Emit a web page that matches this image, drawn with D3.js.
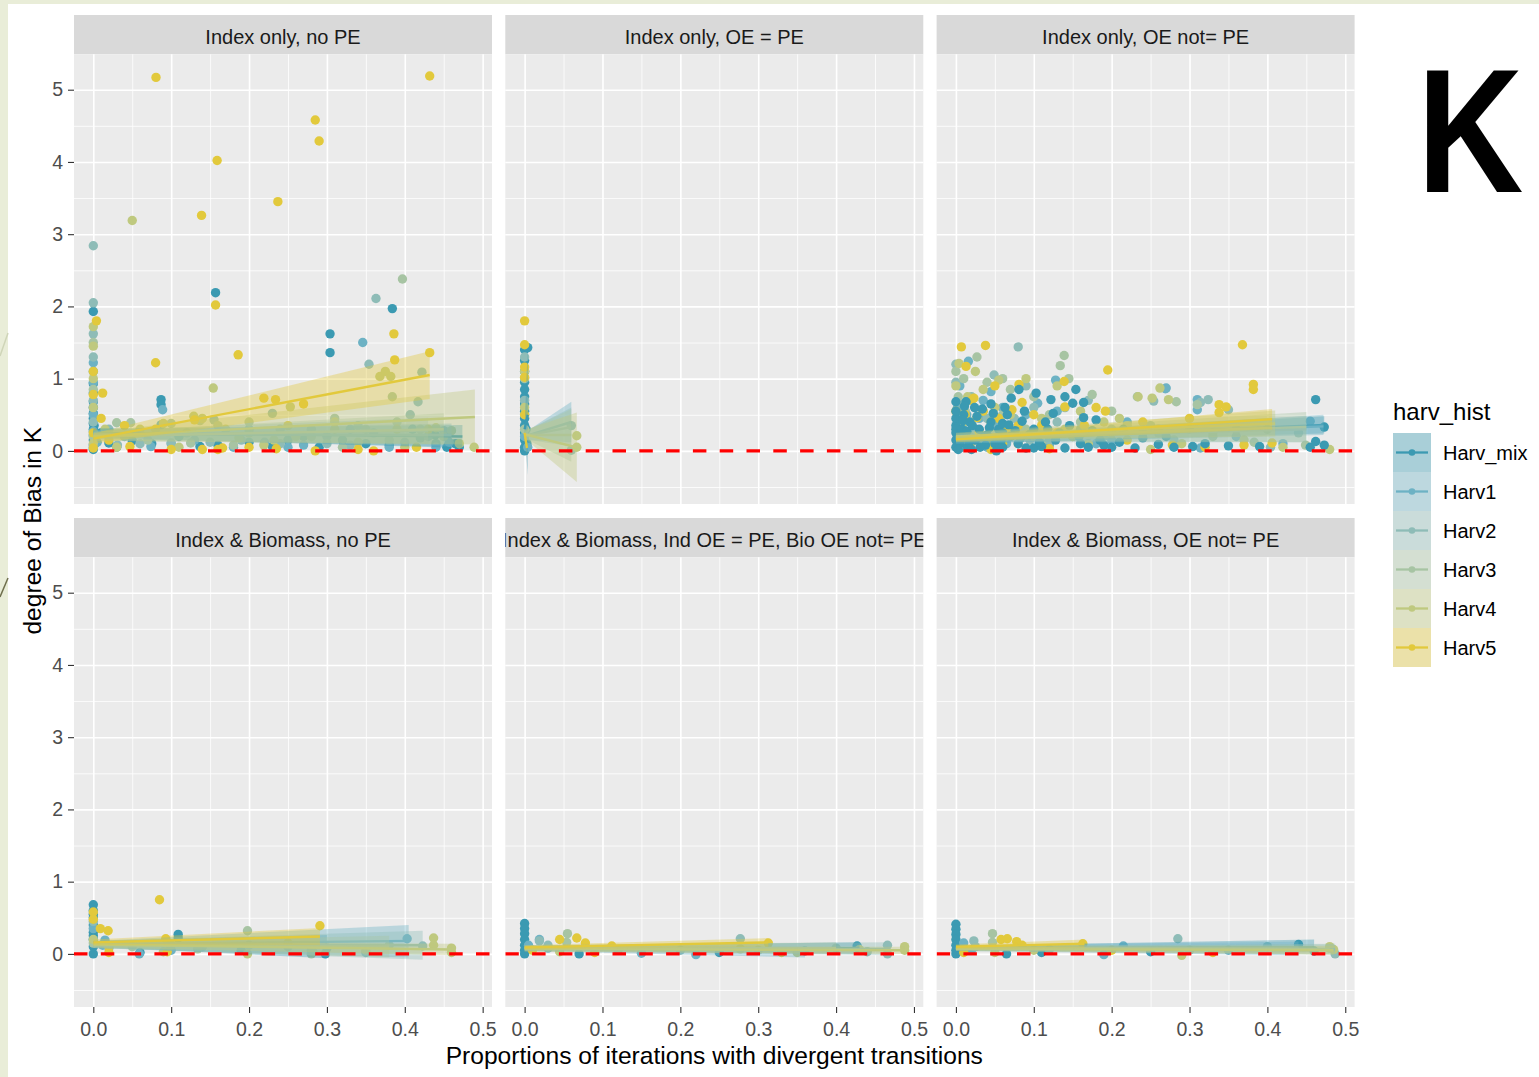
<!DOCTYPE html>
<html lang="en">
<head>
<meta charset="UTF-8">
<title>degree of Bias in K</title>
<script src="https://cdn.jsdelivr.net/npm/d3@7"></script>
<style>
  body { margin: 0; background: #e9edd8; }
  svg { display: block; font-family: "Liberation Sans", Arial, sans-serif; }
  .strip-text { font-size: 20px; fill: #1a1a1a; text-anchor: middle; }
  .axis text { font-size: 19.5px; fill: #4d4d4d; font-family: "Liberation Sans", Arial, sans-serif; }
  .axis line { stroke: #333333; stroke-width: 1.1px; }
  .axis-title { font-size: 24.6px; fill: #000; text-anchor: middle; }
  .legend-title { font-size: 24px; fill: #000; }
  .legend-text { font-size: 20px; fill: #000; }
</style>
</head>
<body>
<svg id="chart" width="1539" height="1077"></svg>
<script>
// ---- data ----
const seriesNames = ["Harv_mix", "Harv1", "Harv2", "Harv3", "Harv4", "Harv5"];
const seriesColors = ["#3b9ab2", "#6db2c4", "#8ebcb7", "#a7c4a3", "#bfc97f", "#e2c93c"];

const panelTitles = [
  "Index only, no PE", "Index only, OE = PE", "Index only, OE not= PE",
  "Index & Biomass, no PE", "Index & Biomass, Ind OE = PE, Bio OE not= PE", "Index & Biomass, OE not= PE"
];

const xTicks = [0, 0.1, 0.2, 0.3, 0.4, 0.5];
const xMinor = [0.05, 0.15, 0.25, 0.35, 0.45];
const yTicks = [0, 1, 2, 3, 4, 5];
const yMinor = [-0.5, 0.5, 1.5, 2.5, 3.5, 4.5];

// points: [series, proportion divergent, bias]
const pointsP1 = [
  [0,0,1.93],[0,0,0.93],[0,0,0.8],[0,0,0.68],[0,0,0.6],[0,0,0.52],[0,0,0.45],[0,0,0.38],[0,0,0.3],[0,0,0.22],
  [0,0,0.15],[0,0,0.08],[0,0,0.02],[0,0.001,0.35],[0,0.002,0.1],[0,0.157,2.19],[0,0.304,1.62],[0,0.304,1.36],
  [0,0.384,1.97],[0,0.087,0.71],[0,0.087,0.64],[0,0.137,0.06],[0,0.02,0.11],[0,0.439,0.22],[0,0.454,0.21],
  [0,0.454,0.05],[0,0.465,0.1],[0,0.47,0.05],[0,0.2,0.12],[0,0.25,0.15],[0,0.35,0.1],[0,0.42,0.18],[0,0.05,0.14],
  [0,0.11,0.2],[0,0.29,0.05],[0,0.01,0.25],[0,0.03,0.05],[0,0.075,0.1],[0,0.16,0.08],[0,0.23,0.06],[0,0.27,0.2],
  [0,0.32,0.15],[0,0.38,0.08],[0,0.41,0.3],[0,0.44,0.1],
  [1,0,1.22],[1,0,1.1],[1,0,0.95],[1,0,0.5],[1,0,0.27],[1,0,0.05],[1,0.089,0.57],[1,0.087,0.36],[1,0.346,1.5],
  [1,0.074,0.06],[1,0.1,0.1],[1,0.18,0.05],[1,0.22,0.12],[1,0.3,0.2],[1,0.27,0.08],[1,0.4,0.12],[1,0.43,0.2],
  [1,0.457,0.12],[1,0.005,0.12],[1,0.33,0.3],[1,0.38,0.05],[1,0.04,0.2],[1,0.13,0.15],[1,0.2,0.3],[1,0.25,0.05],
  [1,0.36,0.25],[1,0.44,0.05],
  [2,0,2.84],[2,0,2.05],[2,0,1.62],[2,0,1.3],[2,0,0.7],[2,0,0.4],[2,0.354,1.2],[2,0.363,2.11],[2,0.417,0.68],
  [2,0.422,1.09],[2,0.407,0.5],[2,0.23,0.52],[2,0.155,0.43],[2,0.031,0.08],[2,0.1,0.11],[2,0.06,0.1],[2,0.15,0.12],
  [2,0.24,0.1],[2,0.33,0.08],[2,0.38,0.15],[2,0.28,0.3],[2,0.02,0.3],[2,0.12,0.25],[2,0.19,0.15],[2,0.3,0.1],
  [2,0.34,0.35],[2,0.45,0.28],
  [3,0,1.5],[3,0,0.85],[3,0,0.2],[3,0.397,2.38],[3,0.384,0.75],[3,0.03,0.39],[3,0.048,0.39],[3,0.137,0.42],
  [3,0.125,0.11],[3,0.1,0.38],[3,0.2,0.4],[3,0.28,0.2],[3,0.35,0.3],[3,0.42,0.3],[3,0.45,0.2],[3,0.31,0.45],
  [3,0.18,0.08],[3,0.07,0.15],[3,0.16,0.35],[3,0.24,0.3],[3,0.32,0.05],[3,0.39,0.4],[3,0.46,0.28],
  [4,0,1.72],[4,0,1.45],[4,0,1.0],[4,0,0.6],[4,0,0.1],[4,0.05,3.19],[4,0.154,0.87],[4,0.489,0.05],[4,0.368,1.03],
  [4,0.375,1.1],[4,0.382,1.03],[4,0.253,0.61],[4,0.129,0.48],[4,0.14,0.45],[4,0.187,0.18],[4,0.219,0.08],
  [4,0.232,0.15],[4,0.2,0.25],[4,0.09,0.38],[4,0.44,0.32],[4,0.03,0.05],[4,0.06,0.3],[4,0.34,0.12],[4,0.47,0.1],
  [4,0.015,0.3],[4,0.11,0.05],[4,0.17,0.3],[4,0.26,0.2],[4,0.31,0.4],[4,0.4,0.05],
  [5,0.0805,5.17],[5,0.432,5.19],[5,0.285,4.58],[5,0.29,4.29],[5,0.159,4.02],[5,0.237,3.45],[5,0.139,3.26],
  [5,0.157,2.02],[5,0.08,1.22],[5,0.186,1.33],[5,0.386,1.62],[5,0.432,1.36],[5,0.387,1.26],[5,0.004,1.8],
  [5,0,1.1],[5,0.012,0.8],[5,0,0.78],[5,0.01,0.45],[5,0,0.25],[5,0,0.04],[5,0.219,0.73],[5,0.234,0.71],
  [5,0.047,0.06],[5,0.166,0.04],[5,0.16,0.02],[5,0.14,0.02],[5,0.285,0.0],[5,0.235,0.03],[5,0.34,0.02],
  [5,0.36,0.0],[5,0.13,0.43],[5,0.43,0.3],[5,0.415,0.05],[5,0.04,0.35],[5,0.27,0.65],[5,0.02,0.15],
  [5,0.08,0.3],[5,0.1,0.02],[5,0.2,0.05],[5,0.25,0.35],[5,0.31,0.3],[5,0.39,0.3]
];

const pointsP2 = [
  [0,0,1.4],[0,0,1.25],[0,0,1.1],[0,0,0.95],[0,0,0.85],[0,0,0.75],[0,0,0.65],[0,0,0.55],[0,0,0.45],[0,0,0.35],
  [0,0,0.25],[0,0,0.15],[0,0,0.05],[0,0,0.0],[0,0.002,0.3],[0,0.003,0.1],[0,0.004,1.43],
  [1,0,0.5],[1,0,0.2],[1,0.004,0.05],
  [2,0,1.3],[2,0,0.7],[2,0.06,0.35],[2,0.06,0.01],
  [3,0,1.0],[3,0,0.3],
  [4,0,1.1],[4,0,0.6],[4,0.067,0.21],[4,0.067,0.05],
  [5,0,1.8],[5,0,1.47],[5,0,1.16],[5,0,1.02],[5,0,0.5]
];

const pointsP3 = [
  [1,0.016,1.24],[1,0.045,0.82],[1,0.03,0.45],[1,0.07,0.2],[1,0.128,0.98],[1,0.12,0.08],[1,0.2,0.15],[1,0.269,0.86],
  [1,0.27,0.87],[1,0.31,0.71],[1,0.31,0.57],[1,0.314,0.04],[1,0.455,0.41],[1,0.01,0.3],[1,0.06,0.6],[1,0.09,0.5],
  [1,0.16,0.3],[1,0.24,0.25],[1,0.36,0.2],[1,0.42,0.1],[1,0.005,0.9],[1,0.04,0.05],[1,0.11,0.25],[1,0.105,0.66],
  [1,0.002,0.6],[1,0.008,0.05],[1,0.014,0.5],[1,0.022,0.25],[1,0.035,0.7],[1,0.05,0.35],[1,0.065,0.1],
  [1,0.085,0.3],[1,0.13,0.55],[1,0.18,0.1],[1,0.22,0.4],
  [2,0.08,1.44],[2,0.049,1.05],[2,0,0.95],[2,0,1.2],[2,0.02,0.75],[2,0.035,0.55],[2,0.06,0.3],[2,0.09,0.9],
  [2,0.1,0.6],[2,0.13,0.4],[2,0.2,0.3],[2,0.254,0.69],[2,0.314,0.67],[2,0.324,0.71],[2,0.35,0.57],[2,0.404,0.05],
  [2,0.36,0.3],[2,0.44,0.25],[2,0.015,0.1],[2,0.12,0.15],[2,0.17,0.7],[2,0.28,0.15],[2,0.05,0.2],
  [2,0.004,0.4],[2,0.01,0.65],[2,0.025,0.3],[2,0.04,0.45],[2,0.055,0.12],[2,0.075,0.45],[2,0.095,0.15],
  [2,0.14,0.6],[2,0.19,0.2],[2,0.25,0.35],
  [3,0.027,1.3],[3,0.139,1.32],[3,0.134,1.18],[3,0.145,1.0],[3,0.175,0.78],[3,0.233,0.75],[3,0.283,0.68],
  [3,0.31,0.64],[3,0.449,0.08],[3,0.383,0.12],[3,0.01,1.0],[3,0.04,0.95],[3,0.07,0.85],[3,0.1,0.75],[3,0.03,0.2],
  [3,0.08,0.25],[3,0.15,0.2],[3,0.2,0.55],[3,0.22,0.35],[3,0.4,0.3],[3,0,1.1],[3,0.12,0.5],[3,0.06,1.0],
  [3,0.003,0.75],[3,0.012,0.55],[3,0.02,0.12],[3,0.045,0.25],[3,0.06,0.5],[3,0.09,0.3],[3,0.11,0.1],
  [3,0.16,0.4],[3,0.26,0.25],[3,0.33,0.2],
  [4,0.004,1.21],[4,0.025,1.1],[4,0.234,0.75],[4,0.252,0.73],[4,0.262,0.87],[4,0.273,0.71],[4,0.035,0.85],
  [4,0.055,0.98],[4,0.09,1.0],[4,0.13,0.9],[4,0.16,0.55],[4,0.19,0.4],[4,0.3,0.3],[4,0.37,0.15],[4,0.42,0.05],
  [4,0.01,0.4],[4,0.05,0.6],[4,0.08,0.1],[4,0.11,0.45],[4,0.25,0.02],[4,0.33,0.25],[4,0.48,0.02],[4,0,0.9],
  [4,0.002,0.3],[4,0.015,0.75],[4,0.028,0.15],[4,0.045,0.4],[4,0.07,0.5],[4,0.1,0.2],[4,0.14,0.3],
  [4,0.17,0.1],[4,0.21,0.45],[4,0.29,0.1],
  [5,0.007,1.44],[5,0.038,1.46],[5,0.013,1.17],[5,0.195,1.12],[5,0.139,0.96],[5,0.14,0.61],[5,0.192,0.55],
  [5,0.368,1.47],[5,0.382,0.92],[5,0.382,0.85],[5,0.338,0.64],[5,0.338,0.53],[5,0.347,0.61],[5,0.406,0.11],
  [5,0.37,0.08],[5,0.278,0.08],[5,0.02,0.7],[5,0.05,0.9],[5,0.081,0.92],[5,0.085,0.67],[5,0.072,0.57],
  [5,0.023,0.73],[5,0.027,0.46],[5,0.11,0.35],[5,0.03,0.25],[5,0,0.55],[5,0.15,0.2],[5,0.22,0.15],[5,0.24,0.4],
  [5,0.3,0.45],[5,0.12,0.03],[5,0.045,0.02],[5,0.065,0.3],[5,0.005,0.2],[5,0.012,0.5],[5,0.018,0.05],
  [5,0.035,0.55],[5,0.04,0.12],[5,0.055,0.45],[5,0.06,0.1],[5,0.08,0.35],[5,0.1,0.5],[5,0.13,0.25],
  [5,0.165,0.35],[5,0.18,0.6],[5,0.2,0.25],[5,0.26,0.3],[5,0.32,0.05],
  [0,0,0.05],[0,0,0.15],[0,0,0.25],[0,0,0.35],[0,0,0.45],[0,0,0.55],[0,0,0.68],[0,0,0.3],[0,0.005,0.1],
  [0,0.008,0.3],[0,0.01,0.5],[0,0.012,0.2],[0,0.013,0.68],[0,0.015,0.05],[0,0.018,0.4],[0,0.024,0.6],
  [0,0.025,0.15],[0,0.03,0.3],[0,0.034,0.58],[0,0.038,0.08],[0,0.04,0.22],[0,0.045,0.4],[0,0.05,0.1],
  [0,0.055,0.3],[0,0.06,0.05],[0,0.06,0.38],[0,0.06,0.25],[0,0.066,0.5],[0,0.07,0.2],[0,0.071,0.73],
  [0,0.08,0.1],[0,0.081,0.85],[0,0.085,0.41],[0,0.09,0.04],[0,0.1,0.3],[0,0.1,0.04],[0,0.103,0.8],
  [0,0.11,0.06],[0,0.115,0.4],[0,0.122,0.71],[0,0.128,0.15],[0,0.14,0.04],[0,0.14,0.75],[0,0.15,0.66],
  [0,0.154,0.85],[0,0.16,0.1],[0,0.164,0.46],[0,0.164,0.67],[0,0.17,0.05],[0,0.18,0.43],[0,0.19,0.08],
  [0,0.21,0.12],[0,0.23,0.04],[0,0.26,0.09],[0,0.28,0.05],[0,0.304,0.06],[0,0.35,0.07],[0,0.39,0.06],
  [0,0.455,0.05],[0,0.462,0.71],[0,0.462,0.13],[0,0.473,0.33],[0,0.473,0.08],[0,0.045,0.65],[0,0.02,0.02],
  [0,0.003,0.02],[0,0.006,0.18],[0,0.009,0.42],[0,0.011,0.62],[0,0.014,0.27],[0,0.017,0.12],[0,0.021,0.35],
  [0,0.027,0.48],[0,0.031,0.05],[0,0.036,0.2],[0,0.043,0.32],[0,0.048,0.52],[0,0.052,0.0],[0,0.058,0.15],
  [0,0.063,0.6],[0,0.068,0.36],[0,0.076,0.28],[0,0.083,0.18],[0,0.088,0.55],[0,0.094,0.22],[0,0.107,0.12],
  [0,0.118,0.3],[0,0.125,0.52],[0,0.133,0.25],[0,0.146,0.35],[0,0.158,0.2],[0,0.175,0.28],[0,0.185,0.15],
  [0,0.2,0.05],[0,0.215,0.3],[0,0.24,0.18],[0,0.27,0.2],[0,0.32,0.1]
];

const pointsP4 = [
  [0,0,0.68],[0,0,0.6],[0,0,0.5],[0,0,0.4],[0,0,0.3],[0,0,0.2],[0,0,0.1],[0,0,0.0],[0,0,0.55],[0,0,0.25],
  [0,0.109,0.27],[0,0.109,0.22],[0,0.298,0.0],[0,0.06,0.02],[0,0.3,0.08],[0,0.19,0.05],
  [1,0,0.35],[1,0.015,0.19],[1,0.059,0.0],[1,0.403,0.21],[1,0.012,0.12],[1,0.1,0.05],[1,0.25,0.1],[1,0.35,0.02],
  [2,0,0.45],[2,0.423,0.11],[2,0.02,0.08],[2,0.14,0.1],[2,0.28,0.05],[2,0.2,0.12],
  [3,0.198,0.32],[3,0.134,0.07],[3,0,0.15],[3,0.05,0.1],[3,0.28,0.0],[3,0.38,0.12],
  [4,0.437,0.22],[4,0.437,0.12],[4,0.46,0.08],[4,0.46,0.02],[4,0.198,0.0],[4,0.282,0.03],[4,0,0.2],
  [4,0.1,0.12],[4,0.09,0.03],[4,0.35,0.05],
  [5,0.085,0.75],[5,0.009,0.35],[5,0.019,0.32],[5,0.093,0.21],[5,0.291,0.39],[5,0,0.58],[5,0,0.48],
  [5,0.02,0.02],[5,0.095,0.03],[5,0.02,0.1],[5,0.25,0.15]
];

const pointsP5 = [
  [0,0,0.42],[0,0,0.35],[0,0,0.28],[0,0,0.2],[0,0,0.12],[0,0,0.05],[0,0,0.0],[0,0.427,0.11],[0,0.07,0.0],[0,0.25,0.02],
  [1,0.019,0.2],[1,0.03,0.08],[1,0.15,0.01],[1,0.22,-0.01],[1,0.005,0.12],[1,0.36,0.04],
  [2,0.019,0.18],[2,0.277,0.21],[2,0.466,0.12],[2,0.03,0.12],[2,0.2,0.05],[2,0.44,0.03],[2,0.466,0.0],
  [3,0.055,0.28],[3,0.054,0.16],[3,0.12,0.05],[3,0.3,0.05],[3,0.4,0.08],
  [4,0.488,0.05],[4,0.488,0.1],[4,0.045,0.03],[4,0.277,0.07],[4,0.35,0.02],[4,0.43,0.06],
  [5,0.045,0.2],[5,0.067,0.22],[5,0.078,0.15],[5,0.112,0.11],[5,0.313,0.15],[5,0.01,0.05],[5,0.33,0.02],[5,0.09,0.02]
];

const pointsP6 = [
  [0,0,0.41],[0,0,0.34],[0,0,0.27],[0,0,0.2],[0,0,0.12],[0,0,0.05],[0,0,0.0],[0,0.44,0.13],[0,0.065,0.0],
  [0,0.11,0.02],[0,0.46,0.04],[0,0.25,0.03],
  [1,0.215,0.11],[1,0.01,0.15],[1,0.02,0.05],[1,0.19,-0.01],[1,0.35,0.05],
  [2,0.023,0.18],[2,0.285,0.21],[2,0.487,0.0],[2,0.025,0.1],[2,0.12,0.06],[2,0.4,0.1],
  [3,0.047,0.28],[3,0.047,0.16],[3,0.3,0.05],[3,0.48,0.08],
  [4,0.485,0.06],[4,0.48,0.1],[4,0.1,0.05],[4,0.29,-0.02],[4,0.33,0.03],[4,0.05,0.02],
  [5,0.058,0.2],[5,0.066,0.21],[5,0.078,0.17],[5,0.085,0.12],[5,0.163,0.14],[5,0.01,0.02],[5,0.33,0.02],[5,0.2,0.05]
];

// linear fits: [series, xStart, xEnd, yStart, yEnd, loStart, hiStart, loEnd, hiEnd]
const fitsP1 = [
  [0, 0, 0.474, 0.25, 0.2, 0.19, 0.31, 0.04, 0.36],
  [1, 0, 0.46, 0.23, 0.22, 0.17, 0.29, 0.06, 0.38],
  [2, 0, 0.43, 0.22, 0.28, 0.16, 0.28, 0.1, 0.46],
  [3, 0, 0.45, 0.2, 0.3, 0.14, 0.26, 0.08, 0.52],
  [4, 0, 0.49, 0.2, 0.47, 0.14, 0.26, 0.09, 0.85],
  [5, 0, 0.432, 0.17, 1.05, 0.1, 0.24, 0.72, 1.38]
];
const fitsP2 = [
  [0, 0, 0.004, 0.3, 0.5, 0.25, 0.35, -0.33, 1.43],
  [1, 0, 0.06, 0.2, 0.4, 0.15, 0.25, 0.12, 0.68],
  [2, 0, 0.06, 0.21, 0.33, 0.16, 0.26, 0.06, 0.6],
  [3, 0, 0.06, 0.22, 0.22, 0.17, 0.27, -0.15, 0.58],
  [4, 0, 0.067, 0.23, 0.05, 0.17, 0.29, -0.43, 0.53],
  [5, 0, 0.003, 0.25, 0.04, 0.2, 0.3, -0.05, 0.13]
];
const fitsP3 = [
  [0, 0, 0.473, 0.14, 0.36, 0.1, 0.18, 0.24, 0.48],
  [1, 0, 0.472, 0.15, 0.34, 0.1, 0.2, 0.22, 0.5],
  [2, 0, 0.45, 0.17, 0.3, 0.12, 0.22, 0.12, 0.48],
  [3, 0, 0.45, 0.19, 0.33, 0.14, 0.24, 0.12, 0.54],
  [4, 0, 0.41, 0.2, 0.38, 0.15, 0.25, 0.2, 0.56],
  [5, 0, 0.406, 0.16, 0.44, 0.12, 0.2, 0.3, 0.58]
];
const fitsP4 = [
  [0, 0, 0.3, 0.14, 0.1, 0.1, 0.18, -0.06, 0.26],
  [1, 0, 0.405, 0.13, 0.18, 0.08, 0.18, -0.05, 0.4],
  [2, 0, 0.423, 0.13, 0.12, 0.08, 0.18, -0.08, 0.32],
  [3, 0, 0.38, 0.12, 0.1, 0.08, 0.16, -0.05, 0.25],
  [4, 0, 0.46, 0.13, 0.06, 0.09, 0.17, -0.02, 0.14],
  [5, 0, 0.291, 0.16, 0.24, 0.12, 0.2, 0.12, 0.36]
];
const fitsP5 = [
  [0, 0, 0.43, 0.08, 0.08, 0.05, 0.11, 0.0, 0.16],
  [1, 0, 0.36, 0.08, 0.05, 0.04, 0.12, -0.05, 0.1],
  [2, 0, 0.466, 0.08, 0.07, 0.04, 0.12, -0.02, 0.16],
  [3, 0, 0.4, 0.08, 0.08, 0.04, 0.12, 0.0, 0.16],
  [4, 0, 0.488, 0.07, 0.05, 0.03, 0.11, 0.0, 0.1],
  [5, 0, 0.313, 0.09, 0.16, 0.06, 0.12, 0.1, 0.22]
];
const fitsP6 = [
  [0, 0, 0.46, 0.08, 0.09, 0.05, 0.11, 0.03, 0.2],
  [1, 0, 0.44, 0.08, 0.07, 0.04, 0.12, -0.02, 0.17],
  [2, 0, 0.487, 0.08, 0.06, 0.05, 0.11, -0.01, 0.14],
  [3, 0, 0.48, 0.08, 0.07, 0.05, 0.11, 0.0, 0.13],
  [4, 0, 0.485, 0.07, 0.05, 0.04, 0.1, -0.01, 0.11],
  [5, 0, 0.165, 0.1, 0.14, 0.07, 0.13, 0.08, 0.2]
];

const panelPoints = [pointsP1, pointsP2, pointsP3, pointsP4, pointsP5, pointsP6];
const panelFits = [fitsP1, fitsP2, fitsP3, fitsP4, fitsP5, fitsP6];

// ---- layout ----
const panelW = 418, panelH = 449.7, stripH = 39.3;
const colX = [74, 505.3, 936.6];
const rowY = [54.3, 557.3];

const svg = d3.select("#chart");

// slide background
svg.append("rect").attr("width", 1539).attr("height", 1077).attr("fill", "#e9edd8");
svg.append("rect").attr("x", 8).attr("y", 4).attr("width", 1531).attr("height", 1073).attr("fill", "#ffffff");
svg.append("line").attr("x1", 0).attr("y1", 356).attr("x2", 8).attr("y2", 333)
  .attr("stroke", "#cfd5b8").attr("stroke-width", 1.5);
svg.append("line").attr("x1", 0).attr("y1", 597).attr("x2", 8).attr("y2", 578)
  .attr("stroke", "#6f6f4d").attr("stroke-width", 1.5);

const x = d3.scaleLinear().domain([-0.0248, 0.512]).range([0, panelW]);
const y = d3.scaleLinear().domain([-0.735, 5.49]).range([panelH, 0]);

const area = d3.area().x(d => x(d[0])).y0(d => y(d[1])).y1(d => y(d[2]));
const line = d3.line().x(d => x(d[0])).y(d => y(d[1]));

panelTitles.forEach((title, i) => {
  const col = i % 3, row = Math.floor(i / 3);
  const g = svg.append("g").attr("transform", `translate(${colX[col]},${rowY[row]})`);

  // strip
  const stripClip = "strip-clip-" + i;
  g.append("clipPath").attr("id", stripClip).append("rect")
    .attr("x", 0).attr("y", -stripH).attr("width", panelW).attr("height", stripH);
  g.append("rect").attr("x", 0).attr("y", -stripH).attr("width", panelW).attr("height", stripH)
    .attr("fill", "#d9d9d9");
  g.append("text").attr("class", "strip-text").attr("clip-path", `url(#${stripClip})`)
    .attr("x", panelW / 2).attr("y", -stripH + 28.8).text(title);

  // panel background and grid
  g.append("rect").attr("width", panelW).attr("height", panelH).attr("fill", "#ebebeb");

  const gridStyle = (sel, w) => {
    sel.select(".domain").remove();
    sel.selectAll("line").attr("stroke", "#ffffff").attr("stroke-width", w);
  };
  g.append("g")
    .call(d3.axisBottom(x).tickValues(xMinor).tickSize(panelH).tickFormat(""))
    .call(gridStyle, 0.8);
  g.append("g")
    .call(d3.axisRight(y).tickValues(yMinor).tickSize(panelW).tickFormat(""))
    .call(gridStyle, 0.8);
  g.append("g")
    .call(d3.axisBottom(x).tickValues(xTicks).tickSize(panelH).tickFormat(""))
    .call(gridStyle, 1.6);
  g.append("g")
    .call(d3.axisRight(y).tickValues(yTicks).tickSize(panelW).tickFormat(""))
    .call(gridStyle, 1.6);

  // data layers, clipped to the panel
  const clipId = "panel-clip-" + i;
  g.append("clipPath").attr("id", clipId).append("rect")
    .attr("width", panelW).attr("height", panelH);
  const plot = g.append("g").attr("clip-path", `url(#${clipId})`);

  plot.append("g").selectAll("circle")
    .data(panelPoints[i])
    .join("circle")
    .attr("cx", d => x(d[1]))
    .attr("cy", d => y(d[2]))
    .attr("r", 4.7)
    .attr("fill", d => seriesColors[d[0]]);

  panelFits[i].forEach(f => {
    const [s, x0, x1, y0, y1, lo0, hi0, lo1, hi1] = f;
    plot.append("path")
      .datum([[x0, lo0, hi0], [x1, lo1, hi1]])
      .attr("d", area)
      .attr("fill", seriesColors[s])
      .attr("fill-opacity", 0.38);
    plot.append("path")
      .datum([[x0, y0], [x1, y1]])
      .attr("d", line)
      .attr("fill", "none")
      .attr("stroke", seriesColors[s])
      .attr("stroke-width", 2.4);
  });

  // reference line at zero
  plot.append("line")
    .attr("x1", 0).attr("x2", panelW)
    .attr("y1", y(0)).attr("y2", y(0))
    .attr("stroke", "#ff0000")
    .attr("stroke-width", 3.2)
    .attr("stroke-dasharray", "13.5,13.3");

  // axes
  if (col === 0) {
    g.append("g").attr("class", "axis")
      .call(d3.axisLeft(y).tickValues(yTicks).tickSize(6).tickPadding(5).tickFormat(d3.format("d")))
      .call(a => a.select(".domain").remove());
  }
  if (row === 1) {
    g.append("g").attr("class", "axis")
      .attr("transform", `translate(0,${panelH})`)
      .call(d3.axisBottom(x).tickValues(xTicks).tickSize(6).tickPadding(9).tickFormat(d3.format(".1f")))
      .call(a => a.select(".domain").remove());
  }
});

// axis titles
svg.append("text").attr("class", "axis-title")
  .attr("x", (colX[0] + colX[2] + panelW) / 2).attr("y", 1064)
  .text("Proportions of iterations with divergent transitions");
svg.append("text").attr("class", "axis-title")
  .attr("transform", `translate(41,${(rowY[0] + rowY[1] + panelH) / 2}) rotate(-90)`)
  .text("degree of Bias in K");

// legend
const legend = svg.append("g").attr("transform", "translate(1393,433)");
const keyW = 38, keyH = 39;
legend.append("text").attr("class", "legend-title").attr("x", 0).attr("y", -13).text("harv_hist");
seriesNames.forEach((name, i) => {
  const k = legend.append("g").attr("transform", `translate(0,${i * keyH})`);
  k.append("rect").attr("width", keyW).attr("height", keyH).attr("fill", "#f2f2f2");
  k.append("rect").attr("width", keyW).attr("height", keyH)
    .attr("fill", seriesColors[i]).attr("fill-opacity", 0.4);
  k.append("line").attr("x1", 3).attr("x2", keyW - 3)
    .attr("y1", keyH / 2).attr("y2", keyH / 2)
    .attr("stroke", seriesColors[i]).attr("stroke-width", 2.3);
  k.append("circle").attr("cx", keyW / 2).attr("cy", keyH / 2).attr("r", 3.3)
    .attr("fill", seriesColors[i]);
  k.append("text").attr("class", "legend-text")
    .attr("x", keyW + 12).attr("y", keyH / 2 + 7).text(name);
});

// panel letter
svg.append("text")
  .attr("transform", "translate(1428,192) scale(0.83,1)")
  .attr("x", -13).attr("y", 0)
  .attr("font-size", 177).attr("font-weight", "bold").attr("fill", "#000")
  .text("K");
</script>
</body>
</html>
